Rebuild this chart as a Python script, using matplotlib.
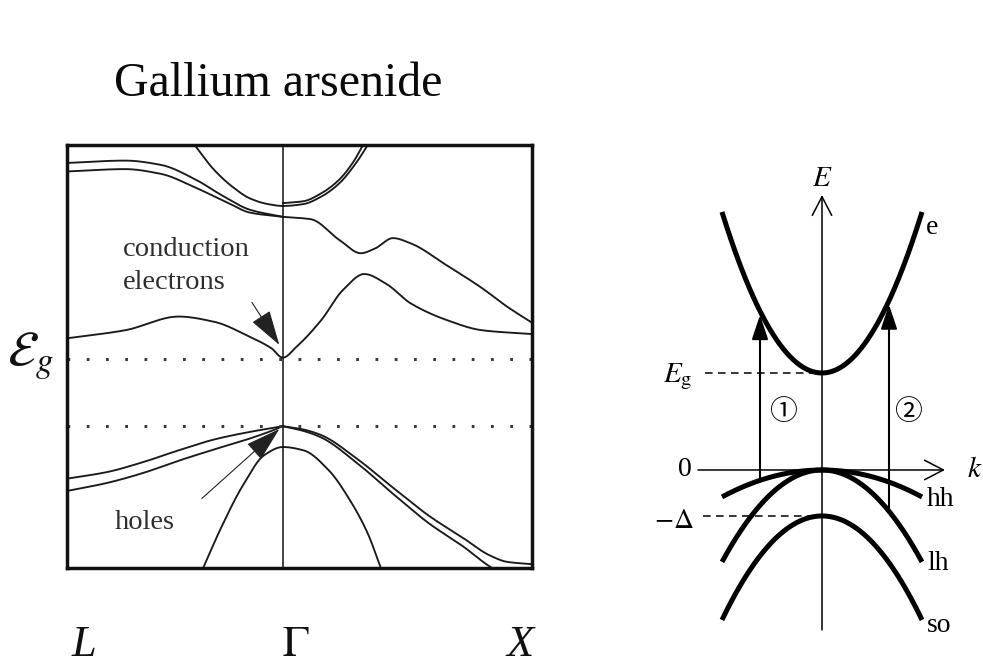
import numpy as np
import matplotlib
matplotlib.use("Agg")
import matplotlib.pyplot as plt

plt.rcParams['mathtext.fontset'] = 'stix'
plt.rcParams['font.family'] = ['Liberation Serif', 'DejaVu Serif']

W, H = 983, 666
fig = plt.figure(figsize=(W / 100, H / 100), dpi=100)

# ---------------------------------------------------------------
# GaAs band structure along L - Gamma - X  (k in path length, E in eV)
# ---------------------------------------------------------------
K_L, K_G, K_X = 0.0, 0.866, 1.866
E_GAP = 1.42
E_VBM = 0.0

# lowest conduction band
cb1_k = [0.0, 0.233, 0.448, 0.590, 0.734, 0.820, 0.866, 0.921, 1.021, 1.107,
         1.193, 1.279, 1.379, 1.522, 1.666, 1.866]
cb1_E = [1.86, 2.03, 2.32, 2.21, 1.89, 1.65, 1.45, 1.68, 2.25, 2.88,
         3.22, 3.02, 2.60, 2.25, 2.03, 1.95]

# second conduction band, Gamma -> X
cb2_k = [0.866, 0.978, 1.093, 1.179, 1.236, 1.308, 1.379, 1.522, 1.666, 1.766, 1.866]
cb2_E = [4.43, 4.38, 3.94, 3.66, 3.76, 3.98, 3.87, 3.41, 2.92, 2.53, 2.19]

# upper conduction bands, L -> Gamma (pair)
cb3a_k = [0.0, 0.233, 0.376, 0.519, 0.620, 0.734, 0.866]
cb3a_E = [5.57, 5.62, 5.53, 5.21, 4.89, 4.58, 4.43]
cb3b_k = [0.0, 0.233, 0.376, 0.519, 0.648, 0.734, 0.866]
cb3b_E = [5.39, 5.44, 5.34, 5.04, 4.72, 4.52, 4.43]

# high conduction valley centred at Gamma
cb4_k = [0.512, 0.591, 0.663, 0.734, 0.806, 0.866, 0.949, 1.021, 1.093, 1.164, 1.207]
cb4_E = [5.95, 5.42, 5.07, 4.82, 4.70, 4.66, 4.70, 4.86, 5.14, 5.60, 5.95]
cb4b_k = [0.866, 0.949, 1.021, 1.093, 1.150, 1.188]
cb4b_E = [4.72, 4.76, 4.93, 5.22, 5.60, 5.95]

# heavy/light hole pair, L -> Gamma
vb1a_k = [0.0, 0.161, 0.305, 0.448, 0.591, 0.734, 0.866]
vb1a_E = [-1.11, -0.97, -0.76, -0.51, -0.28, -0.12, 0.0]
vb1b_k = [0.0, 0.161, 0.305, 0.448, 0.591, 0.734, 0.820, 0.866]
vb1b_E = [-1.37, -1.20, -0.99, -0.73, -0.49, -0.26, -0.10, 0.0]

# heavy/light hole pair, Gamma -> X
vb2a_k = [0.866, 0.949, 1.021, 1.164, 1.308, 1.451, 1.594, 1.695, 1.766, 1.866]
vb2a_E = [0.0, -0.07, -0.19, -0.69, -1.30, -1.89, -2.38, -2.73, -2.87, -2.92]
vb2b_k = [0.866, 0.949, 1.021, 1.164, 1.308, 1.451, 1.594, 1.680, 1.720]
vb2b_E = [0.0, -0.10, -0.24, -0.78, -1.43, -2.05, -2.56, -2.91, -3.05]

# split-off band
so_k = [0.548, 0.620, 0.706, 0.792, 0.866, 0.949, 1.050, 1.136, 1.207, 1.258]
so_E = [-2.98, -2.13, -1.25, -0.61, -0.44, -0.51, -0.93, -1.57, -2.27, -2.98]

point_labels = ['L', r'$\Gamma$', 'X']


def smooth(xs, ys, n=400):
    """Monotone cubic (PCHIP) curve through the given points."""
    x = np.asarray(xs, float)
    y = np.asarray(ys, float)
    h = np.diff(x)
    d = np.diff(y) / h
    m = np.zeros_like(y)
    for i in range(1, len(x) - 1):
        if d[i - 1] * d[i] > 0:
            w1 = 2 * h[i] + h[i - 1]
            w2 = h[i] + 2 * h[i - 1]
            m[i] = (w1 + w2) / (w1 / d[i - 1] + w2 / d[i])
    m[0] = d[0]
    m[-1] = d[-1]
    xx = np.linspace(x[0], x[-1], n)
    idx = np.clip(np.searchsorted(x, xx) - 1, 0, len(x) - 2)
    t = (xx - x[idx]) / h[idx]
    h00 = 2 * t**3 - 3 * t**2 + 1
    h10 = t**3 - 2 * t**2 + t
    h01 = -2 * t**3 + 3 * t**2
    h11 = t**3 - t**2
    yy = h00 * y[idx] + h10 * h[idx] * m[idx] + h01 * y[idx + 1] + h11 * h[idx] * m[idx + 1]
    return xx, yy


ax = fig.add_axes([67 / W, 1 - 568 / H, 465 / W, 423 / H])
ax.set_xlim(K_L, K_X)
ax.set_ylim(-3.0, 5.95)
ax.set_xticks([])
ax.set_yticks([])
for s in ax.spines.values():
    s.set_linewidth(2.5)
    s.set_color('#111111')

band_color = '#1a1a1a'
for bk, bE in [(cb1_k, cb1_E), (cb2_k, cb2_E), (cb3a_k, cb3a_E), (cb3b_k, cb3b_E),
               (cb4_k, cb4_E), (cb4b_k, cb4b_E), (vb1a_k, vb1a_E), (vb1b_k, vb1b_E),
               (vb2a_k, vb2a_E), (vb2b_k, vb2b_E), (so_k, so_E)]:
    xx, yy = smooth(bk, bE)
    ax.plot(xx, yy, color=band_color, lw=1.35, solid_capstyle='round')

ax.axvline(K_G, color='#111111', lw=1.1)
for lvl in (E_GAP, E_VBM):
    ax.axhline(lvl, color='#3a3a3a', lw=2.2, ls=(0, (0.9, 5.4)))

txt_kw = dict(fontsize=20.5, color='#2e2e2e', ha='left', va='center')
ax.text(0.225, 3.73, 'conduction', **txt_kw)
ax.text(0.225, 3.05, 'electrons', **txt_kw)
ax.annotate('', xy=(0.852, 1.72), xytext=(0.742, 2.62),
            arrowprops=dict(arrowstyle='-|>,head_length=1.4,head_width=0.42',
                            mutation_scale=16, lw=0.8, color='#222222',
                            shrinkA=0, shrinkB=0))
ax.text(0.190, -2.03, 'holes', **txt_kw)
ax.annotate('', xy=(0.852, -0.06), xytext=(0.541, -1.53),
            arrowprops=dict(arrowstyle='-|>,head_length=1.4,head_width=0.42',
                            mutation_scale=16, lw=0.8, color='#222222',
                            shrinkA=0, shrinkB=0))

fig.text(278 / W, 1 - 84 / H, 'Gallium arsenide', fontsize=34.5, ha='center', va='center',
         color='#0a0a0a')
fig.text(30 / W, 1 - 356 / H, r'$\mathcal{E}_g$', fontsize=36, ha='center', va='center',
         color='#111111')
for lab, px, st in zip(point_labels, [84, 296, 520], ['italic', 'normal', 'italic']):
    fig.text(px / W, 1 - 645 / H, lab, fontsize=32, ha='center', va='center',
             style=st, color='#111111')

# ---------------------------------------------------------------
# Schematic parabolic bands near k = 0
# ---------------------------------------------------------------
band_names = ['e', 'hh', 'lh', 'so']
band_edge = [1.0, 0.0, 0.0, -0.474]       # E_g = 1, spin-orbit split -Delta
band_curv = [1.66, -0.278, -0.948, -1.072]
k_end = 1.0
k_trans = [-0.62, 0.67]                    # transitions (1) and (2)
trans_from = ['hh', 'lh']

rax = fig.add_axes([640 / W, 0, 343 / W, 516 / H])
rax.set_xlim(-1.82, 1.61)
rax.set_ylim(-2.021, 3.299)
rax.axis('off')

kk = np.linspace(-k_end, k_end, 300)
for name, e0, c in zip(band_names, band_edge, band_curv):
    rax.plot(kk, e0 + c * kk**2, color='black', lw=3.6, solid_capstyle='butt')

axis_arrow = dict(arrowstyle='->,head_length=1.35,head_width=0.7', mutation_scale=10,
                  lw=1.1, color='black', shrinkA=0, shrinkB=0)
rax.annotate('', xy=(0, 2.835), xytext=(0, -1.649), arrowprops=axis_arrow)
rax.annotate('', xy=(1.23, 0), xytext=(-1.24, 0), arrowprops=axis_arrow)

edge = dict(zip(band_names, band_edge))
curv = dict(zip(band_names, band_curv))
for kt, src in zip(k_trans, trans_from):
    e_lo = edge[src] + curv[src] * kt**2
    e_hi = edge['e'] + curv['e'] * kt**2
    rax.annotate('', xy=(kt, e_hi - 0.04), xytext=(kt, e_lo),
                 arrowprops=dict(arrowstyle='-|>,head_length=1.5,head_width=0.5',
                                 mutation_scale=10, lw=1.5, color='black',
                                 shrinkA=0, shrinkB=0))

rax.plot([-1.17, 0], [edge['e'], edge['e']], color='black', lw=1.1, ls=(0, (5, 3.5)))
rax.plot([-1.19, 0], [edge['so'], edge['so']], color='black', lw=1.1, ls=(0, (5, 3.5)))

serif_math = dict(color='black', ha='center', va='center')
rax.text(0, 3.0, r'$E$', fontsize=21, **serif_math)
rax.text(1.53, 0, r'$k$', fontsize=21, **serif_math)
rax.text(-1.44, 0.96, r'$E_{\rm g}$', fontsize=21, **serif_math)
rax.text(-1.37, 0.0, '0', fontsize=20, **serif_math)
rax.text(-1.48, -0.53, r'$-\Delta$', fontsize=20, **serif_math)
rax.text(1.10, 2.50, 'e', fontsize=20, **serif_math)
for kt, num in zip(k_trans, ['\u2460', '\u2461']):
    rax.text(kt + 0.23 if kt < 0 else kt + 0.19, 0.59, num, fontsize=20, color='black',
             ha='center', va='center',
             family=['Liberation Serif', 'DejaVu Serif', 'Noto Sans CJK JP'])
label_E = {'hh': -0.30, 'lh': -0.96, 'so': -1.60}
for name in ['hh', 'lh', 'so']:
    rax.text(1.05, label_E[name], name, fontsize=20, color='black', ha='left', va='center')

fig.savefig('out.png', dpi=100, facecolor='white')
